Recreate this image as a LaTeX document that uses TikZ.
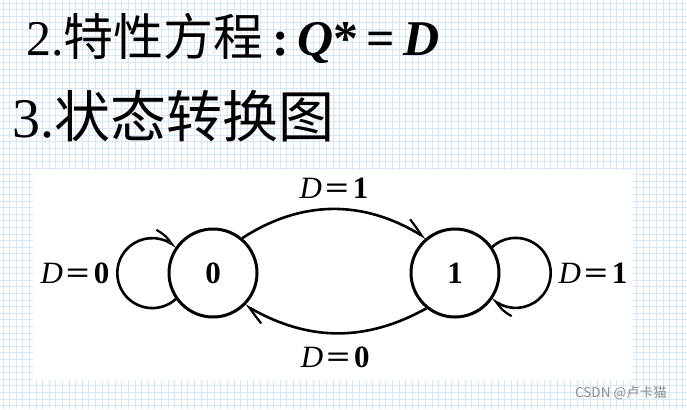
\documentclass[tikz,border=0pt]{standalone}
\usepackage{fontspec}
\setmainfont{Liberation Serif}
\newfontfamily\cjk{Noto Sans CJK SC}
\usetikzlibrary{arrows.meta,bending,positioning}
\definecolor{gridblue}{RGB}{214,230,249}
\definecolor{markgray}{RGB}{140,140,140}
\newcommand{\dlab}[1]{\textit{D}\kern3pt\scalebox{1.35}[1]{\textbf{=}}\kern4pt\textbf{#1}}
\begin{document}
\begin{tikzpicture}[
state/.style={circle,draw,line width=3pt,minimum size=88pt,inner sep=0pt,font=\fontsize{31}{31}\selectfont\bfseries},
trans/.style={line width=2.6pt,-{Straight Barb[harpoon,bend,length=18pt,width=17pt,line width=2.2pt]}},
lbl/.style={inner sep=1pt,font=\fontsize{31}{31}\selectfont},
heading/.style={inner sep=0pt,anchor=base west}
]
\useasboundingbox (0,0) rectangle (687pt,-409pt);
% background grid
\fill[white] (0,0) rectangle (687pt,-409pt);
\foreach \gx in {3,9.6,...,687} \draw[gridblue,line width=0.8pt] (\gx pt,0) -- (\gx pt,-409pt);
\foreach \gy in {3,9.6,...,409} \draw[gridblue,line width=0.8pt] (0,-\gy pt) -- (687pt,-\gy pt);
\fill[white] (33pt,-170pt) rectangle (633pt,-380pt);
% headings
\node[heading,font=\fontsize{50}{50}\selectfont] (eq) at (26pt,-56pt)
  {2.{\cjk 特性方程}\textbf{\,:\,}\textbf{\textit{Q}*\,=\,\textit{D}}};
\node[heading,font=\fontsize{56}{56}\selectfont] (head) at (12pt,-137pt)
  {3.{\cjk 状态转换图}};
% states
\node[state] (s0) at (213pt,-273pt) {0};
\node[state] (s1) at (455pt,-273pt) {1};
% transitions
\draw[trans] (s0.50) to[bend left=33] node[lbl,above=8pt] (l01) {\dlab{1}} (s1.130);
\draw[trans] (s1.-129) to[bend left=30] node[lbl,below=11pt] (l10) {\dlab{0}} (s0.-45);
\draw[trans] (s0.215) arc[start angle=-48,end angle=-312,radius=35pt];
\draw[trans] (s1.35) arc[start angle=132,end angle=-132,radius=35pt];
\node[lbl,left=57pt of s0] (l00) {\dlab{0}};
\node[lbl,right=57pt of s1] (l11) {\dlab{1}};
% watermark
\node[text=markgray,font=\cjk\fontsize{13.5}{13.5}\selectfont] (mark) at (621pt,-393pt) {CSDN @卢卡猫};
\end{tikzpicture}
\end{document}
